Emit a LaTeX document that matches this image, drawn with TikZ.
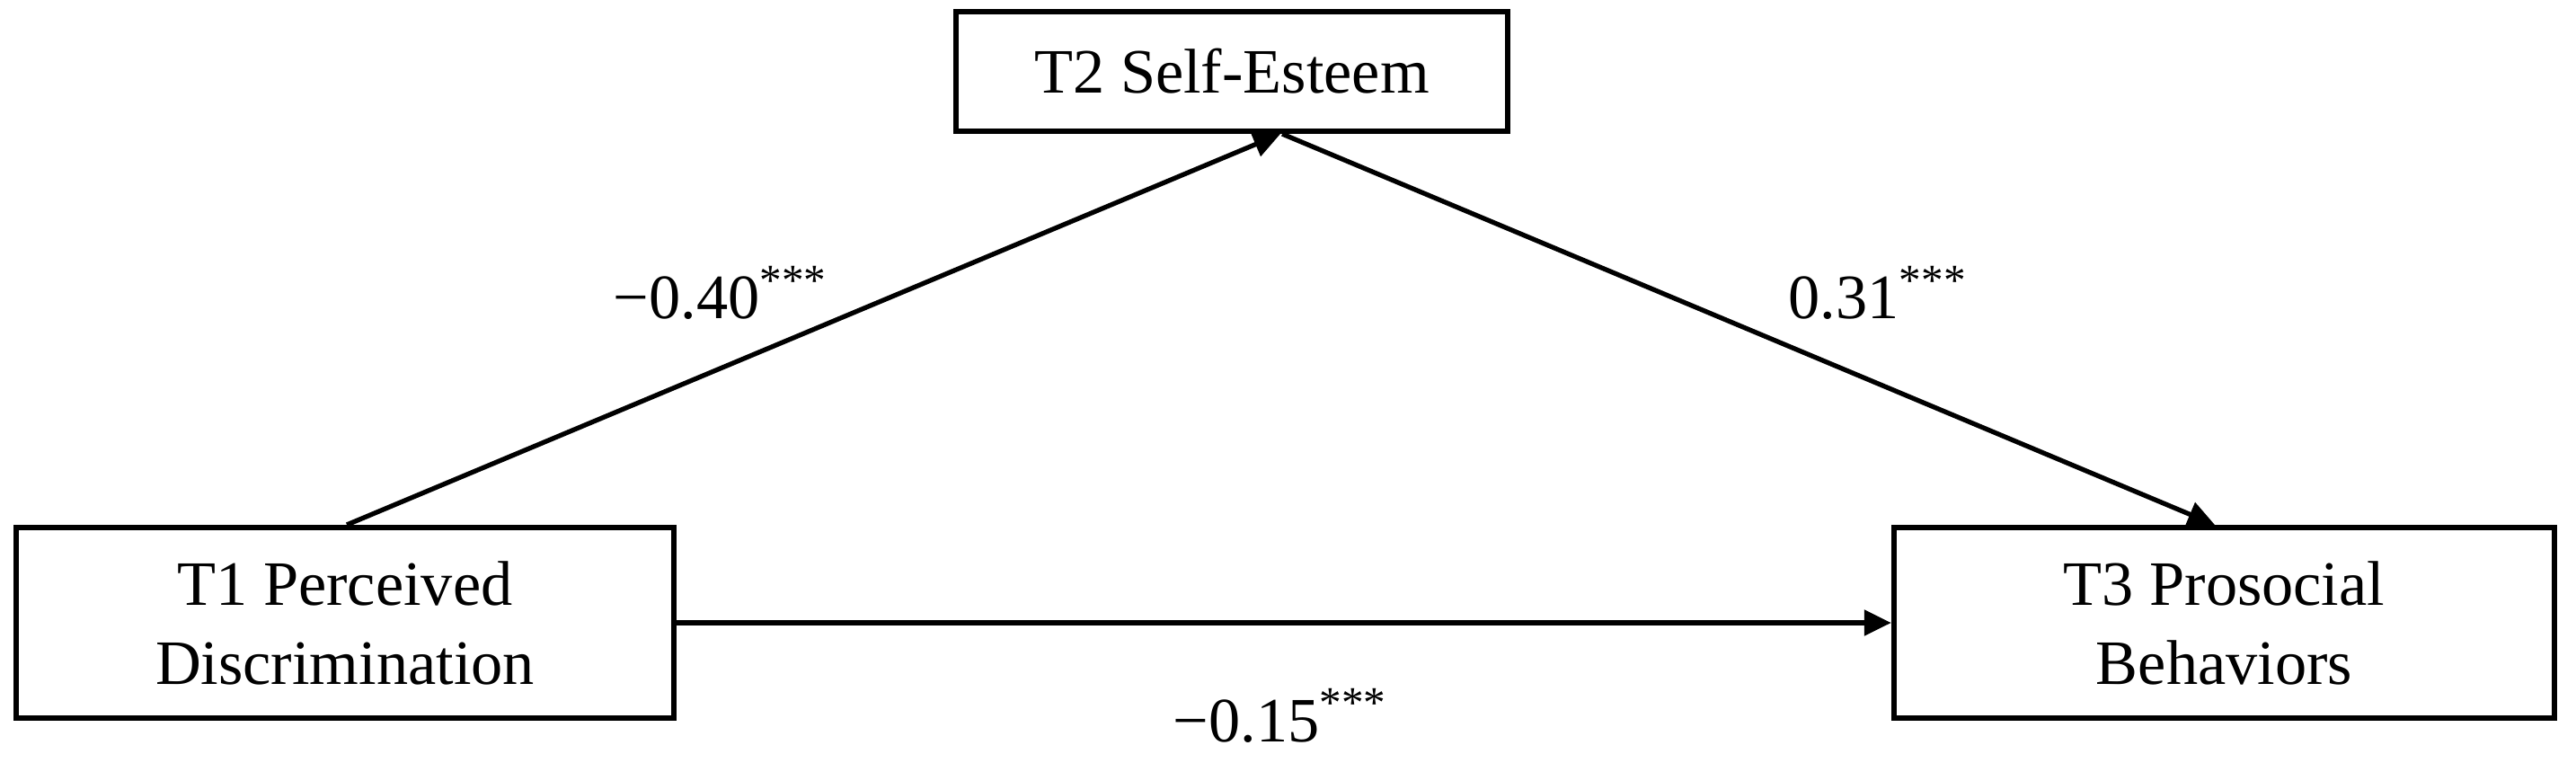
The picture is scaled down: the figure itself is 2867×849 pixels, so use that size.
\documentclass[tikz,border=0pt]{standalone}
\usepackage{fontspec}
\setmainfont{Liberation Serif}
\usetikzlibrary{arrows.meta}
\begin{document}
\begin{tikzpicture}[x=0.01cm,y=-0.01cm,
  varbox/.style={draw,line width=1.7pt,inner sep=0pt,align=center,
    font=\fontsize{20}{25}\selectfont},
  path/.style={line width=1.5pt,-{Triangle[length=0.30cm,width=0.28cm]}},
  coef/.style={anchor=base west,inner sep=0pt,font=\fontsize{20}{24}\selectfont}]
\useasboundingbox (0,0) rectangle (2867,849);
\node[varbox,minimum width=6.14cm,minimum height=1.33cm] (T2) at (1371,79.5) {T2 Self-Esteem};
\node[varbox,minimum width=7.32cm,minimum height=2.12cm] (T1) at (384,693) {T1 Perceived\\Discrimination};
\node[varbox,minimum width=7.35cm,minimum height=2.12cm] (T3) at (2475.5,693) {T3 Prosocial\\Behaviors};
\draw[path] ([xshift=3.71cm]T1.north west) -- ([xshift=3.64cm]T2.south west);
\draw[path] ([xshift=3.66cm]T2.south west) -- ([xshift=3.60cm]T3.north west);
\draw[path] (T1.east) -- (T3.west);
\node[coef] (a) at (682,355) {−0.40\textsuperscript{***}};
\node[coef] (b) at (1990,355) {0.31\textsuperscript{***}};
\node[coef] (c) at (1305,825) {−0.15\textsuperscript{***}};
\end{tikzpicture}
\end{document}
